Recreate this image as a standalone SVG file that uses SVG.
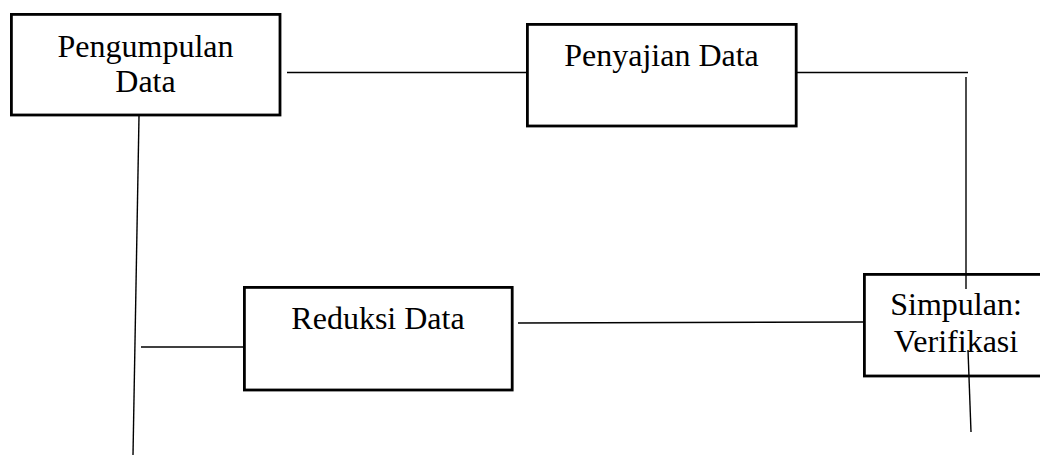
<svg xmlns="http://www.w3.org/2000/svg" width="1040" height="457" viewBox="0 0 1040 457">
  <style>
    .box { fill: #ffffff; stroke: #000000; stroke-width: 2.8; }
    .wire { fill: none; stroke: #000000; stroke-width: 1.4; }
    .label { font-family: "Liberation Serif", "Times New Roman", serif; font-size: 32px; fill: #000000; text-anchor: middle; }
  </style>
  <rect width="1040" height="457" fill="#ffffff"/>

  <!-- process stages -->
  <g id="pengumpulan">
    <rect class="box" x="11.4" y="14.4" width="268.6" height="100.6"/>
    <text class="label" x="145.5" y="57">Pengumpulan</text>
    <text class="label" x="145.5" y="92">Data</text>
  </g>

  <g id="penyajian">
    <rect class="box" x="527.4" y="24.4" width="268.8" height="101.6"/>
    <text class="label" x="661.5" y="66">Penyajian Data</text>
  </g>

  <g id="reduksi">
    <rect class="box" x="244.4" y="287.4" width="267.8" height="102.6"/>
    <text class="label" x="378" y="329">Reduksi Data</text>
  </g>

  <g id="simpulan">
    <rect class="box" x="864.4" y="274.4" width="190" height="101.6"/>
    <text class="label" x="956" y="315">Simpulan:</text>
    <text class="label" x="956" y="352">Verifikasi</text>
  </g>

  <!-- connectors -->
  <g id="connectors">
    <line class="wire" x1="287" y1="72.5" x2="527" y2="72.5"/>
    <line class="wire" x1="797" y1="72.5" x2="968" y2="72.5"/>
    <line class="wire" x1="966" y1="77" x2="966" y2="289"/>
    <line class="wire" x1="968" y1="350" x2="971" y2="432"/>
    <line class="wire" x1="518" y1="323" x2="863" y2="322"/>
    <line class="wire" x1="139" y1="116" x2="133" y2="455"/>
    <line class="wire" x1="141" y1="347" x2="243" y2="347"/>
  </g>
</svg>
